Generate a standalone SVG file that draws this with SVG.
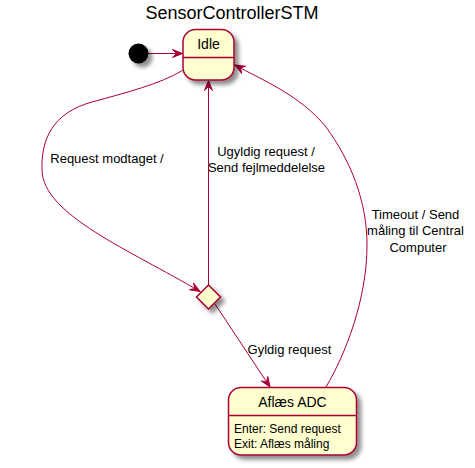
<svg xmlns="http://www.w3.org/2000/svg" width="475" height="468" viewBox="0 0 475 468">
<style>
.st{fill:#FEFECE;stroke:#A80036;stroke-width:1.5}
.ln{fill:none;stroke:#A80036;stroke-width:1}
.t{font-family:"Liberation Sans",Arial,sans-serif;fill:#000}
.lbl{font-size:13px}
.nm{font-size:14px}
.bd{font-size:12px}
</style>
<defs>
<filter id="sh" x="-20%" y="-20%" width="150%" height="150%">
<feGaussianBlur in="SourceAlpha" stdDeviation="2"/>
<feOffset dx="4" dy="4" result="o"/>
<feComponentTransfer><feFuncA type="linear" slope="0.45"/></feComponentTransfer>
<feMerge><feMergeNode/><feMergeNode in="SourceGraphic"/></feMerge>
</filter>
<marker id="ah" viewBox="-11 -5 12 10" refX="0" refY="0" markerWidth="12" markerHeight="10" markerUnits="userSpaceOnUse" orient="auto">
<path d="M0,0 L-10,-4 L-6,0 L-10,4 Z" fill="#A80036" stroke="#A80036" stroke-width="1"/>
</marker>
</defs>
<rect width="475" height="468" fill="#fff"/>
<text class="t" x="232" y="18.5" font-size="18" text-anchor="middle">SensorControllerSTM</text>
<g id="connectors">
<path class="ln" d="M148.5,53.5 L182.5,53.5" marker-end="url(#ah)"/>
<path class="ln" d="M182.5,70.5 C160,84 125,93 92,102 C52,113 41,140 42,170 C43,215 130,250 200,291.5" marker-end="url(#ah)"/>
<path class="ln" d="M208.5,285 L208.5,80.5" marker-end="url(#ah)"/>
<path class="ln" d="M215,304 L270,387" marker-end="url(#ah)"/>
<path class="ln" d="M326,387 C345,355 367,300 367,245 C367,200 350,160 326,127 C300,95 262,80 235,65" marker-end="url(#ah)"/>
<text class="t lbl" x="107" y="163" text-anchor="middle">Request modtaget /</text>
<text class="t lbl" x="266" y="156" text-anchor="middle">Ugyldig request /</text>
<text class="t lbl" x="266.5" y="171.5" text-anchor="middle">Send fejlmeddelelse</text>
<text class="t lbl" x="415.5" y="218.5" text-anchor="middle">Timeout / Send</text>
<text class="t lbl" x="415.5" y="235" text-anchor="middle">måling til Central</text>
<text class="t lbl" x="418" y="251.5" text-anchor="middle">Computer</text>
<text class="t lbl" x="289.5" y="354" text-anchor="middle">Gyldig request</text>
</g>
<g id="start">
<circle cx="138.5" cy="53.5" r="10" fill="#000" filter="url(#sh)"/>
</g>
<g id="idle">
<rect class="st" x="183" y="29.5" width="51" height="50.5" rx="12.5" ry="12.5" filter="url(#sh)"/>
<line x1="183" y1="57.5" x2="234" y2="57.5" stroke="#A80036" stroke-width="1.5"/>
<text class="t nm" x="208.5" y="48.5" text-anchor="middle">Idle</text>
</g>
<g id="choice">
<polygon class="st" points="208.5,285 220.5,297 208.5,309 196.5,297" filter="url(#sh)"/>
</g>
<g id="aflaes">
<rect class="st" x="228.5" y="387.5" width="128" height="67.5" rx="12.5" ry="12.5" filter="url(#sh)"/>
<line x1="228.5" y1="415.5" x2="356.5" y2="415.5" stroke="#A80036" stroke-width="1.5"/>
<text class="t nm" x="292.5" y="407" text-anchor="middle">Aflæs ADC</text>
<text class="t bd" x="234" y="433">Enter: Send request</text>
<text class="t bd" x="234" y="447.5">Exit: Aflæs måling</text>
</g>
</svg>
